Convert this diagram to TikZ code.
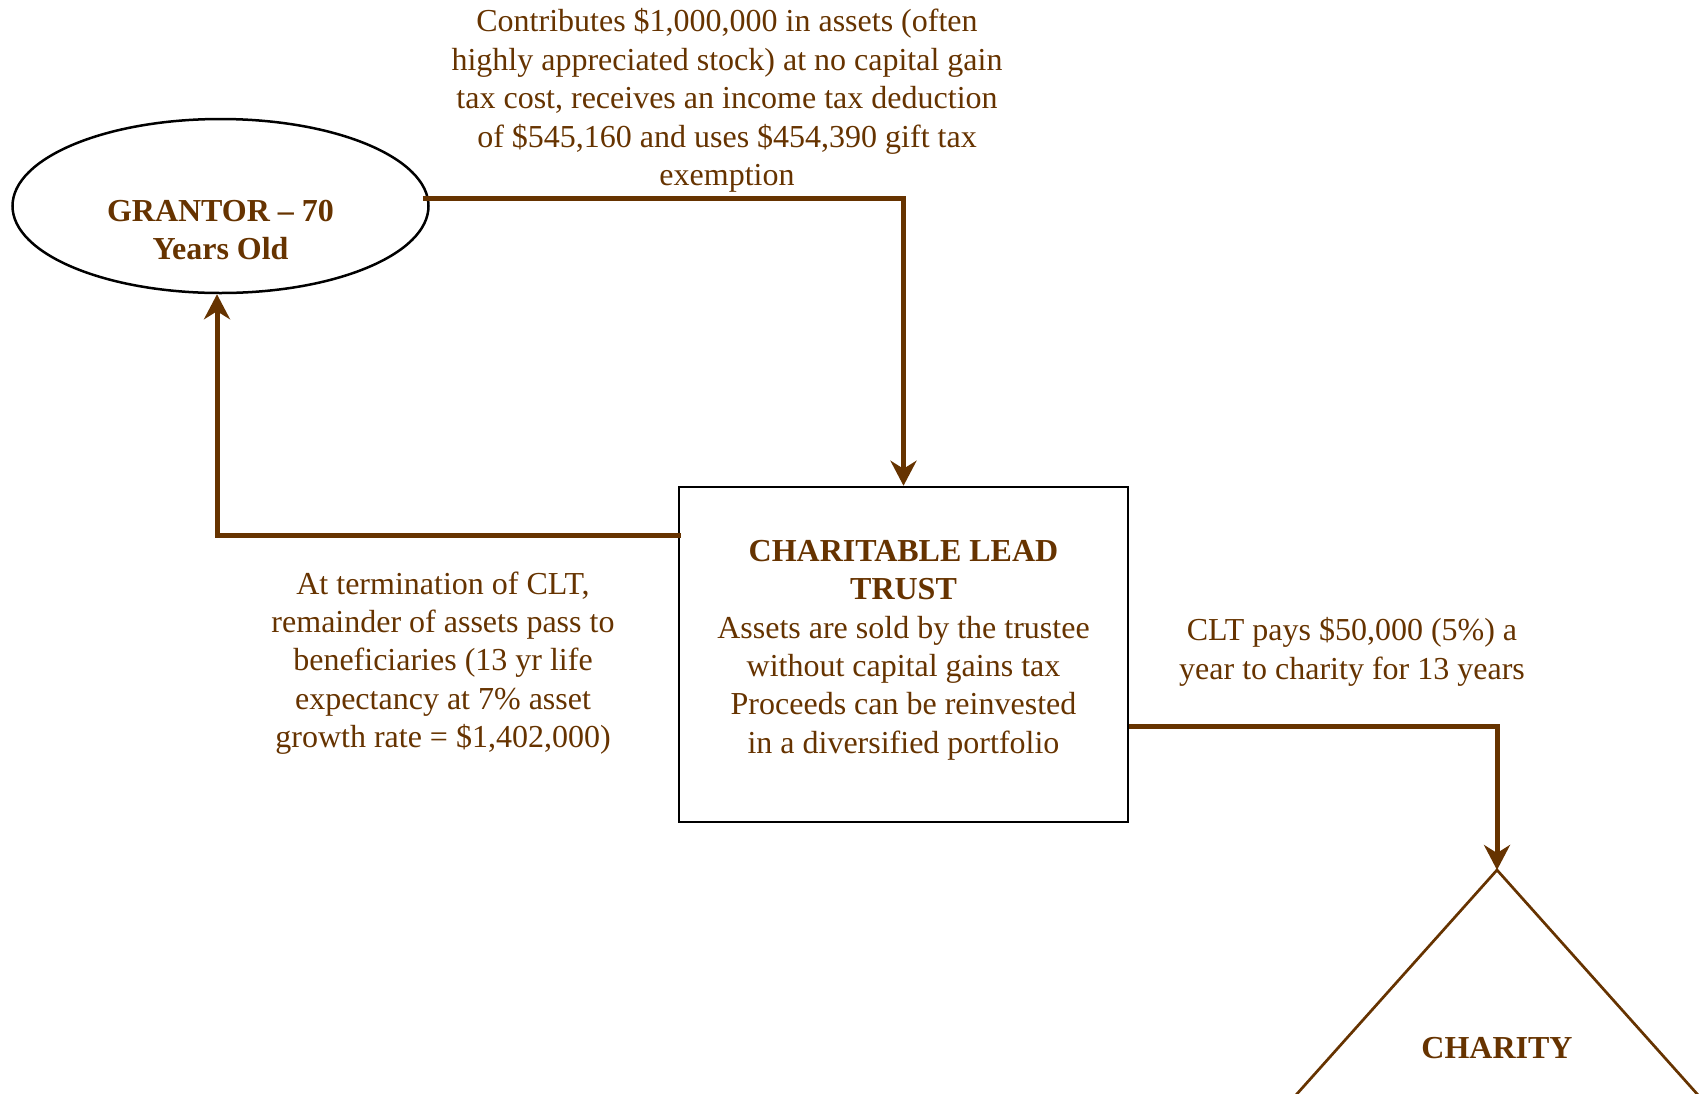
\documentclass[tikz,border=0pt]{standalone}
\usepackage{fontspec}
\setmainfont{Liberation Serif}
\usetikzlibrary{shapes.geometric,arrows.meta,calc}
\definecolor{brn}{HTML}{663300}
\tikzset{
  txt/.style={inner sep=0pt, align=center, text=brn, font=\fontsize{32}{38.4}\selectfont},
  btxt/.style={txt, font=\fontsize{32}{38.4}\selectfont\bfseries},
  flow/.style={draw=brn, line width=5pt, -{Stealth[length=25pt,width=26pt,inset=8pt]}},
  outline/.style={draw=black, line width=2.5pt}
}
\begin{document}
\begin{tikzpicture}[x=1pt,y=-1pt]
\useasboundingbox (0,0) rectangle (1704,1093);
\clip (0,0) rectangle (1704,1093);
% shapes
\node[outline, ellipse, minimum width=416pt, minimum height=174pt, inner sep=0pt] (grantor) at (220.5,206) {};
\node[btxt] (grantortext) at (220.5,230) {GRANTOR -- 70\\Years Old};
\node[outline, rectangle, minimum width=449pt, minimum height=335pt, inner sep=0pt] (clt) at (903.5,654.5) {};
\node[txt] (clttext) at (903.5,650) {\textbf{CHARITABLE LEAD}\\\textbf{TRUST}\\Assets are sold by the trustee\\without capital gains tax\\Proceeds can be reinvested\\in a diversified portfolio};
\coordinate (charity) at (1497,870);
\draw[draw=brn, line width=2.7pt] ($(charity)+(-235,263)$) -- (charity) -- ($(charity)+(235,263)$);
\node[btxt] (charitytext) at (1497,1048) {CHARITY};
% labels
\node[txt] (toplabel) at (727,100.5) {Contributes \$1,000,000 in assets (often\\highly appreciated stock) at no capital gain\\tax cost, receives an income tax deduction\\of \$545,160 and uses \$454,390 gift tax\\exemption};
\node[txt] (leftlabel) at (443,663) {At termination of CLT,\\remainder of assets pass to\\beneficiaries (13 yr life\\expectancy at 7\% asset\\growth rate = \$1,402,000)};
\node[txt] (rightlabel) at (1352,652) {CLT pays \$50,000 (5\%) a\\year to charity for 13 years};
% connectors
\draw[flow] ([xshift=-7pt,yshift=8pt]grantor.east) -| (clt.north);
\draw[flow] ([xshift=3pt,yshift=119.5pt]clt.west) -| ([xshift=-3.5pt]grantor.south);
\draw[flow] ([yshift=-71.5pt]clt.east) -| (charity);
\end{tikzpicture}
\end{document}
